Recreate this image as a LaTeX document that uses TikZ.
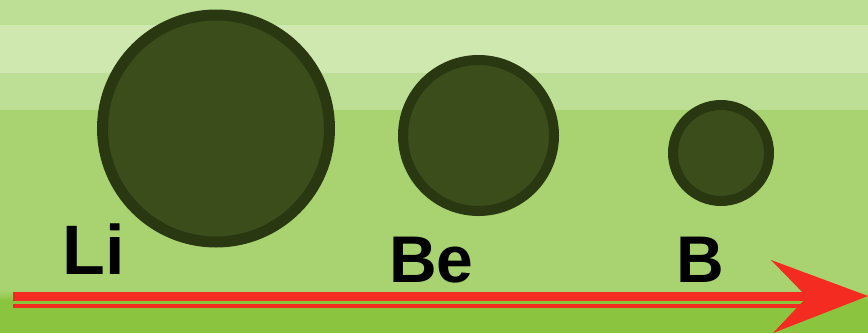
\documentclass[tikz,border=0pt]{standalone}
\usepackage{fontspec}
\setmainfont{Liberation Sans}
\usepackage{xcolor}
\usetikzlibrary{positioning}

\definecolor{bandA}{HTML}{BDDF95}
\definecolor{bandB}{HTML}{CFE8AF}
\definecolor{grassA}{HTML}{A9D371}
\definecolor{grassB}{HTML}{8BC540}
\definecolor{atomfill}{HTML}{3A4D1A}
\definecolor{atomrim}{HTML}{2A3812}
\definecolor{arrowred}{HTML}{F42B20}

\begin{document}
\begin{tikzpicture}[
  x=1pt, y=-1pt,
  atom/.style={circle, draw=atomrim, fill=atomfill, inner sep=0pt},
  elem/.style={anchor=base, inner sep=0pt, font=\bfseries\fontsize{70}{70}\selectfont},
  elemsm/.style={elem, font=\bfseries\fontsize{66}{66}\selectfont}
]
\useasboundingbox (0,0) rectangle (868,333);
% background bands
\fill[bandA]  (0,0)   rectangle (868,25);
\fill[bandB]  (0,25)  rectangle (868,73);
\fill[bandA]  (0,73)  rectangle (868,110);
\fill[grassA] (0,110) rectangle (868,297);
\shade[top color=grassA, bottom color=grassB] (0,290) rectangle (868,300);
\fill[grassB] (0,300) rectangle (868,333);

% atoms, shrinking left to right
\node[atom, line width=11pt, minimum size=227pt] (li) at (216,128.5) {};
\node[atom, line width=10pt, minimum size=151pt] (be) at (478.5,135.5) {};
\node[atom, line width=10pt, minimum size=96pt]  (b)  at (721,153) {};

\node[elem]   (lilabel) at (94,274)    {Li};
\node[elemsm] (belabel) at (431.5,282) {Be};
\node[elemsm] (blabel)  at (700.5,282) {B};

% trend arrow
\coordinate (tail) at (13,296.5);
\coordinate (head) at (820,296.5);
\coordinate (tip)  at (868,296);
\draw[arrowred, line width=9pt] (tail) -- (head);
\draw[arrowred, line width=4pt] ([yshift=-9.5pt]tail) -- ([yshift=-9.5pt]head);
\fill[arrowred] (771,260) -- (tip) -- (773,333) -- (807,297) -- cycle;
\end{tikzpicture}
\end{document}
